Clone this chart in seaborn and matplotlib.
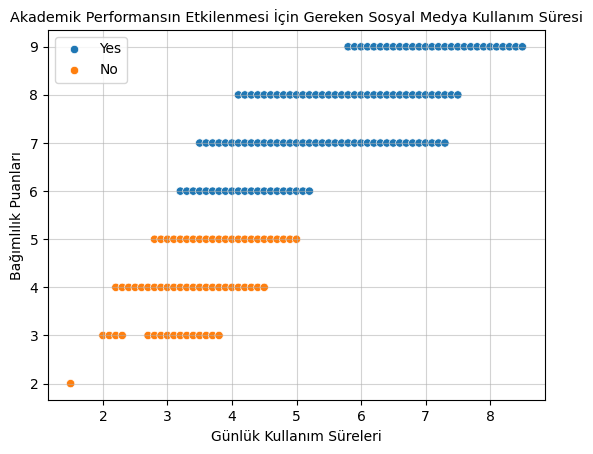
import pandas as pd
import seaborn as sns
import matplotlib.pyplot as plt

# Usage hours per addiction score (0.1 h steps)
usage_9 = [5.8, 5.9, 6.0, 6.1, 6.2, 6.3, 6.4, 6.5, 6.6, 6.7, 6.8, 6.9, 7.0, 7.1,
           7.2, 7.3, 7.4, 7.5, 7.6, 7.7, 7.8, 7.9, 8.0, 8.1, 8.2, 8.3, 8.4, 8.5]
usage_8 = [4.1, 4.2, 4.3, 4.4, 4.5, 4.6, 4.7, 4.8, 4.9, 5.0, 5.1, 5.2, 5.3, 5.4,
           5.5, 5.6, 5.7, 5.8, 5.9, 6.0, 6.1, 6.2, 6.3, 6.4, 6.5, 6.6, 6.7, 6.8,
           6.9, 7.0, 7.1, 7.2, 7.3, 7.4, 7.5]
usage_7 = [3.5, 3.6, 3.7, 3.8, 3.9, 4.0, 4.1, 4.2, 4.3, 4.4, 4.5, 4.6, 4.7, 4.8,
           4.9, 5.0, 5.1, 5.2, 5.3, 5.4, 5.5, 5.6, 5.7, 5.8, 5.9, 6.0, 6.1, 6.2,
           6.3, 6.4, 6.5, 6.6, 6.7, 6.8, 6.9, 7.0, 7.1, 7.2, 7.3]
usage_6 = [3.2, 3.3, 3.4, 3.5, 3.6, 3.7, 3.8, 3.9, 4.0, 4.1, 4.2, 4.3, 4.4, 4.5,
           4.6, 4.7, 4.8, 4.9, 5.0, 5.1, 5.2]
usage_5 = [2.8, 2.9, 3.0, 3.1, 3.2, 3.3, 3.4, 3.5, 3.6, 3.7, 3.8, 3.9, 4.0, 4.1,
           4.2, 4.3, 4.4, 4.5, 4.6, 4.7, 4.8, 4.9, 5.0]
usage_4 = [2.2, 2.3, 2.4, 2.5, 2.6, 2.7, 2.8, 2.9, 3.0, 3.1, 3.2, 3.3, 3.4, 3.5,
           3.6, 3.7, 3.8, 3.9, 4.0, 4.1, 4.2, 4.3, 4.4, 4.5]
usage_3 = [2.0, 2.1, 2.2, 2.3, 2.7, 2.8, 2.9, 3.0, 3.1, 3.2, 3.3, 3.4, 3.5, 3.6,
           3.7, 3.8]
usage_2 = [1.5]

scores = [9, 8, 7, 6, 5, 4, 3, 2]
affects = ['Yes', 'Yes', 'Yes', 'Yes', 'No', 'No', 'No', 'No']
usage_rows = [usage_9, usage_8, usage_7, usage_6, usage_5, usage_4, usage_3, usage_2]

rows = []
for score, affect, usage in zip(scores, affects, usage_rows):
    for u in usage:
        rows.append({'usage': u, 'score': score, 'affects': affect})
df = pd.DataFrame(rows)

fig, ax = plt.subplots(figsize=(5.93, 4.54), dpi=100)
fig.subplots_adjust(left=0.081, right=0.919, top=0.934, bottom=0.118)

sns.scatterplot(data=df, x='usage', y='score', hue='affects',
                hue_order=['Yes', 'No'], ax=ax)

ax.grid(True, alpha=0.55)
ax.legend(loc='upper left')
ax.set_title('Akademik Performansın Etkilenmesi İçin Gereken Sosyal Medya Kullanım Süresi',
             fontsize=10.4)
ax.set_xlabel('Günlük Kullanım Süreleri')
ax.set_ylabel('Bağımlılık Puanları')

plt.savefig('out.png')
